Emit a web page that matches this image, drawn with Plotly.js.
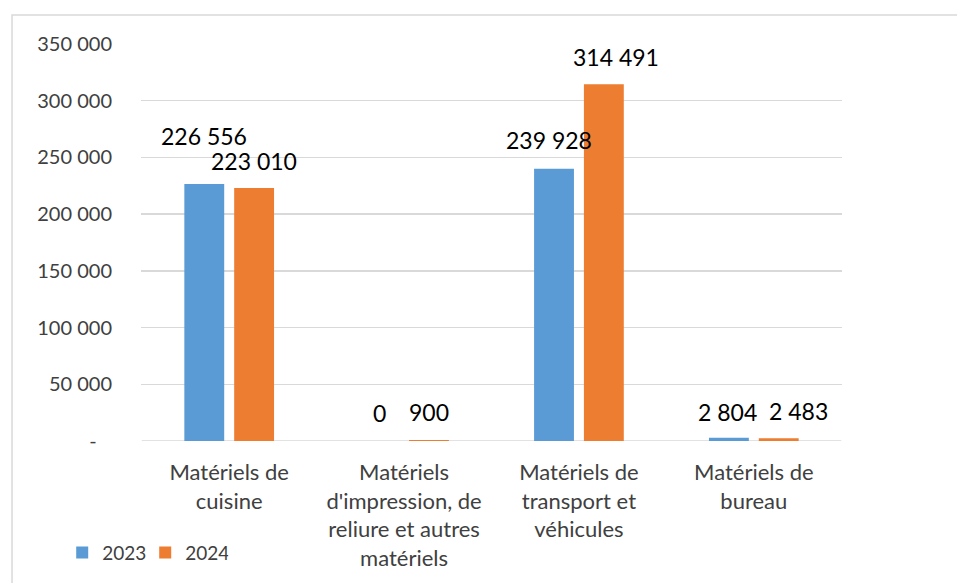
<!DOCTYPE html>
<html>
<head>
<meta charset="utf-8">
<script src="https://cdn.plot.ly/plotly-3.0.1.min.js"></script>
<style>
  html, body { margin: 0; padding: 0; background: #ffffff; }
  #chart { width: 957px; height: 583px; }
</style>
</head>
<body>
<div id="chart"></div>
<script>
// ---- Data ----
var categories = [
  "Matériels de<br>cuisine",
  "Matériels<br>d'impression, de<br>reliure et autres<br>matériels",
  "Matériels de<br>transport et<br>véhicules",
  "Matériels de<br>bureau"
];
var series2023 = [226556, 0, 239928, 2804];
var series2024 = [223010, 900, 314491, 2483];
var seriesNames = ["2023", "2024"];
var yTickValues = [0, 50000, 100000, 150000, 200000, 250000, 300000, 350000];

// ---- Label placement (pixel offsets, styling only) ----
var dx2023 = [-25, -25, -30, -26];
var dy2023 = [48, 28, 29, 26];
var dx2024 = [25, 25, 37, 45];
var dy2024 = [27, 28, 27, 27];

function fmt(v) {
  return String(v).replace(/\B(?=(\d{3})+(?!\d))/g, " ");
}
var yTickText = yTickValues.map(function (v) {
  return v === 0 ? "-\u00a0\u00a0\u00a0" : fmt(v);
});

var colors = ["#5B9BD5", "#ED7D31"];
var fontFamily = "Lato, 'Open Sans', sans-serif";

var traces = [series2023, series2024].map(function (vals, i) {
  return {
    type: "bar",
    name: seriesNames[i],
    x: categories,
    y: vals,
    marker: { color: colors[i] },
    hoverinfo: "x+y"
  };
});

var annotations = [];
[series2023, series2024].forEach(function (vals, i) {
  var dx = i === 0 ? dx2023 : dx2024;
  var dy = i === 0 ? dy2023 : dy2024;
  vals.forEach(function (v, j) {
    annotations.push({
      x: categories[j],
      y: v,
      xref: "x",
      yref: "y",
      text: fmt(v),
      showarrow: false,
      xanchor: "center",
      yanchor: "middle",
      xshift: dx[j],
      yshift: dy[j],
      font: { family: fontFamily, size: 23, color: "#000000" }
    });
  });
});

var layout = {
  width: 957,
  height: 583,
  margin: { l: 141, r: 115, t: 44, b: 142 },
  paper_bgcolor: "#ffffff",
  plot_bgcolor: "#ffffff",
  barmode: "group",
  bargap: 0.43,
  bargroupgap: 0.2,
  showlegend: true,
  legend: {
    orientation: "h",
    xref: "container",
    yref: "container",
    x: 0.065,
    y: 0.052,
    xanchor: "left",
    yanchor: "middle",
    font: { family: fontFamily, size: 19, color: "#404040" },
    traceorder: "normal",
    entrywidth: 38,
    itemwidth: 30
  },
  xaxis: {
    type: "category",
    showgrid: false,
    zeroline: false,
    showline: false,
    ticks: "",
    ticklabelstandoff: 16,
    tickfont: { family: fontFamily, size: 22, color: "#404040" },
    fixedrange: true
  },
  yaxis: {
    range: [0, 350000],
    tickvals: yTickValues,
    ticktext: yTickText,
    showgrid: true,
    gridcolor: "#d9d9d9",
    gridwidth: 1.5,
    zeroline: false,
    showline: false,
    ticks: "",
    ticklabelstandoff: 28,
    tickfont: { family: fontFamily, size: 20, color: "#404040" },
    fixedrange: true
  },
  shapes: [
    {
      type: "line", xref: "x", yref: "y",
      x0: -0.5, x1: 3.5, y0: 0, y1: 0,
      line: { color: "#d9d9d9", width: 1.5 },
      layer: "below"
    },
    {
      type: "rect", xref: "paper", yref: "paper",
      x0: -0.184, x1: 1.5, y0: -0.5, y1: 1.073,
      line: { color: "#d9d9d9", width: 1.5 },
      fillcolor: "rgba(0,0,0,0)",
      layer: "below"
    }
  ],
  annotations: annotations
};

Plotly.newPlot("chart", traces, layout, { displayModeBar: false, staticPlot: true });
</script>
</body>
</html>
